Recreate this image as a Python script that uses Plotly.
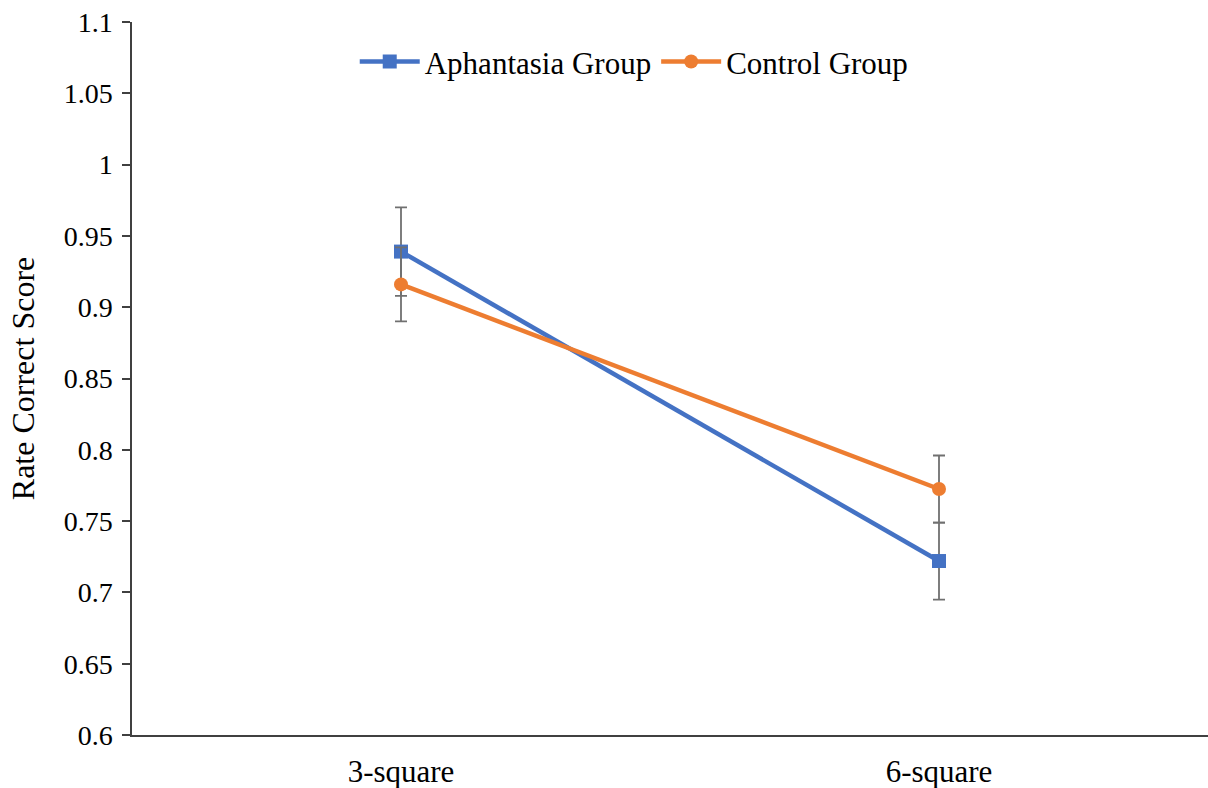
import plotly.graph_objects as go

categories = ["3-square", "6-square"]
aphantasia = [0.939, 0.722]
aphantasia_err = [0.031, 0.027]
control = [0.916, 0.7725]
control_err = [0.026, 0.0235]
y_ticks = [0.6, 0.65, 0.7, 0.75, 0.8, 0.85, 0.9, 0.95, 1.0, 1.05, 1.1]
y_tick_labels = ["0.6", "0.65", "0.7", "0.75", "0.8", "0.85", "0.9", "0.95", "1", "1.05", "1.1"]

x_pos = list(range(len(categories)))
font_family = "Liberation Serif, Times New Roman, serif"

fig = go.Figure()
fig.add_trace(go.Scatter(
    x=x_pos, y=aphantasia, name="Aphantasia Group", mode="lines+markers",
    line=dict(color="#4472C4", width=4.5),
    marker=dict(symbol="square", size=14, color="#4472C4"),
    error_y=dict(type="data", array=aphantasia_err, visible=True,
                 color="#707070", thickness=1.8, width=6),
))
fig.add_trace(go.Scatter(
    x=x_pos, y=control, name="Control Group", mode="lines+markers",
    line=dict(color="#ED7D31", width=4.5),
    marker=dict(symbol="circle", size=14, color="#ED7D31"),
    error_y=dict(type="data", array=control_err, visible=True,
                 color="#707070", thickness=1.8, width=6),
))

fig.update_layout(
    width=1208, height=788,
    margin=dict(l=132, r=0, t=22, b=53),
    paper_bgcolor="white", plot_bgcolor="white",
    font=dict(family=font_family, size=28, color="#000000"),
    showlegend=True,
    legend=dict(orientation="h", x=0.207, xanchor="left", y=0.982, yanchor="top",
                font=dict(size=31), itemwidth=60, tracegroupgap=0,
                bgcolor="rgba(0,0,0,0)"),
    xaxis=dict(
        range=[-0.5, 1.5], tickvals=x_pos, ticktext=categories,
        showgrid=False, zeroline=False, showline=True, linecolor="#404040",
        linewidth=1.5, ticks="outside", ticklen=8, tickcolor="rgba(0,0,0,0)",
        tickfont=dict(size=31), automargin=False,
    ),
    yaxis=dict(
        range=[0.6, 1.1], tickvals=y_ticks, ticktext=y_tick_labels,
        showgrid=False, zeroline=False, showline=True, linecolor="#404040",
        linewidth=1.5, ticks="outside", ticklen=8, tickcolor="#404040",
        tickwidth=1.5, tickfont=dict(size=28), ticklabelstandoff=4,
        automargin=False,
        title=dict(text="Rate Correct Score", font=dict(size=32), standoff=19),
    ),
)

fig.write_html("out.html")
